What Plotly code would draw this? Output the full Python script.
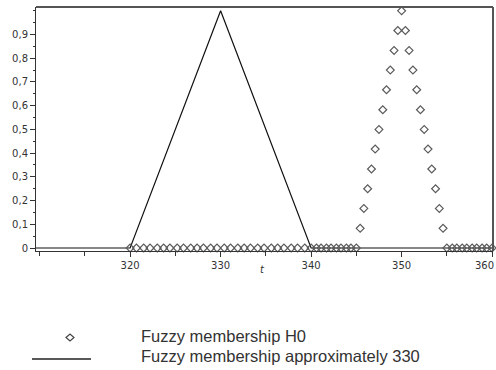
import plotly.graph_objects as go

# ---- data ----
t_h0 = [320.0, 320.7, 321.5, 322.2, 323.0, 323.7, 324.4, 325.2, 325.9, 326.7, 327.4,
        328.1, 328.9, 329.6, 330.4, 331.1, 331.9, 332.6, 333.3, 334.1, 334.8, 335.6,
        336.3, 337.0, 337.8, 338.5, 339.3, 340.0, 340.6, 341.1, 341.7, 342.2, 342.8,
        343.3, 343.9, 344.4, 345.0,
        345.42, 345.83, 346.25, 346.67, 347.08, 347.5, 347.92, 348.33, 348.75, 349.17,
        349.58, 350.0, 350.42, 350.83, 351.25, 351.67, 352.08, 352.5, 352.92, 353.33,
        353.75, 354.17, 354.58, 355.0,
        355.6, 356.1, 356.7, 357.2, 357.8, 358.3, 358.9, 359.4, 360.0]
mu_h0 = [0.0] * 37 + [0.083, 0.167, 0.25, 0.333, 0.417, 0.5, 0.583, 0.667, 0.75, 0.833,
                      0.917, 1.0, 0.917, 0.833, 0.75, 0.667, 0.583, 0.5, 0.417, 0.333,
                      0.25, 0.167, 0.083, 0.0] + [0.0] * 9

t_330 = [309.6, 320.0, 330.0, 340.0, 360.1]
mu_330 = [0.0, 0.0, 1.0, 0.0, 0.0]

x_tickvals = [320, 330, 340, 350, 360]
x_ticktext = ["320", "330", "340", "350", ""]
x_last_label = "360"
x_minorvals = [310, 315, 325, 335, 345, 355]
y_tickvals = [0, 0.1, 0.2, 0.3, 0.4, 0.5, 0.6, 0.7, 0.8, 0.9]
y_ticktext = ["0", "0,1", "0,2", "0,3", "0,4", "0,5", "0,6", "0,7", "0,8", "0,9"]
legend_labels = ["Fuzzy membership H0", "Fuzzy membership approximately 330"]

# ---- figure ----
fig = go.Figure()
fig.add_trace(go.Scatter(x=t_330, y=mu_330, mode="lines",
                         line=dict(color="#111111", width=1.2),
                         showlegend=False, cliponaxis=False))
fig.add_trace(go.Scatter(x=t_h0, y=mu_h0, mode="markers",
                         marker=dict(symbol="diamond-open", size=6,
                                     color="#5a5a5a", line=dict(width=1.2)),
                         showlegend=False, cliponaxis=False))

L, R, T, B = 36, 493, 7, 251
W, H = 496, 370
pw, ph = R - L, B - T


def px(x):
    return (x - L) / pw


def py(y):
    return (B - y) / ph


fig.update_layout(
    width=W, height=H,
    margin=dict(l=L, r=W - R, t=T, b=H - B),
    plot_bgcolor="white", paper_bgcolor="white",
    font=dict(family="DejaVu Sans", size=10, color="#333333"),
    xaxis=dict(range=[309.6, 360.1], tickmode="array", tickvals=x_tickvals,
               ticktext=x_ticktext, ticks="outside", ticklen=5, tickcolor="#333",
               showgrid=False, zeroline=False, showline=True, linecolor="#333",
               linewidth=1, mirror=False, automargin=False,
               ticklabeloverflow="allow",
               minor=dict(tickmode="array", tickvals=x_minorvals, ticks="outside",
                          ticklen=4, tickcolor="#333", showgrid=False),
               tickfont=dict(size=10, color="#333")),
    yaxis=dict(range=[-0.0126, 1.016], tickmode="array", tickvals=y_tickvals,
               ticktext=y_ticktext, ticks="outside", ticklen=5, tickcolor="#333",
               showgrid=False, zeroline=False, showline=True, linecolor="#333",
               linewidth=1, automargin=False,
               minor=dict(dtick=0.05, ticks="outside", ticklen=2, tickcolor="#333",
                          showgrid=False),
               tickfont=dict(size=10, color="#333")),
    showlegend=False,
)

# last x tick label, kept inside the page
fig.add_annotation(text=x_last_label, xref="paper", yref="paper", x=px(496),
                   y=py(258), xanchor="right", yanchor="top", showarrow=False,
                   font=dict(size=10, color="#333"))

# top and right frame borders
fig.add_shape(type="line", xref="paper", yref="paper", x0=0, x1=1, y0=1, y1=1,
              line=dict(color="#555555", width=2))
fig.add_shape(type="line", xref="paper", yref="paper", x0=1, x1=1, y0=0, y1=1,
              line=dict(color="#555555", width=2))

# axis label
fig.add_annotation(text="<i>t</i>", xref="paper", yref="paper", x=px(262), y=py(277),
                   showarrow=False, font=dict(size=10, color="#333"))

# legend
fig.add_shape(type="path", xref="paper", yref="paper",
              path="M {} {} L {} {} L {} {} L {} {} Z".format(
                  px(66), py(337.5), px(70), py(334), px(74), py(337.5), px(70), py(341)),
              line=dict(color="#444", width=1.2))
fig.add_shape(type="line", xref="paper", yref="paper", x0=px(32), x1=px(91),
              y0=py(359), y1=py(359), line=dict(color="#222", width=1.3))
fig.add_annotation(text=legend_labels[0], xref="paper", yref="paper", x=px(139),
                   y=py(336), xanchor="left", yanchor="middle", showarrow=False,
                   font=dict(family="Liberation Sans", size=16.5, color="#333"))
fig.add_annotation(text=legend_labels[1], xref="paper", yref="paper", x=px(139),
                   y=py(356), xanchor="left", yanchor="middle", showarrow=False,
                   font=dict(family="Liberation Sans", size=16.5, color="#333"))

fig.write_html("out.html", config={"displayModeBar": False},
               post_script="document.body.style.margin='0px';document.body.style.overflow='hidden';")
